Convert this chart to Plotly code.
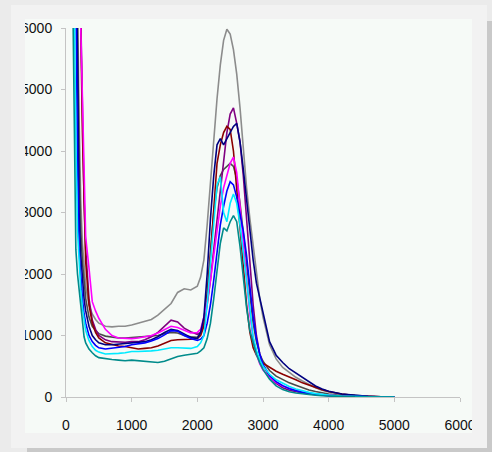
import plotly.graph_objects as go

# ---- data ----
x_vals = [100, 125, 150, 175, 200, 225, 250, 275, 300, 350, 400, 450, 500,
          600, 700, 800, 900, 1000, 1100, 1200, 1300, 1400, 1500, 1600, 1700,
          1800, 1900, 2000, 2050, 2100, 2150, 2200, 2250, 2300, 2350, 2400,
          2450, 2500, 2550, 2600, 2650, 2700, 2750, 2800, 2850, 2900, 2950,
          3000, 3100, 3200, 3300, 3400, 3500, 3600, 3700, 3800, 3900, 4000,
          4200, 4400, 4600, 4800, 5000]

gray = [14000, 11000, 9000, 6500, 4500, 3200, 2500, 2100, 1800, 1500, 1350, 1260, 1200,
        1150, 1140, 1150, 1150, 1170, 1200, 1220, 1260, 1330, 1420, 1520, 1700,
        1760, 1740, 1800, 1950, 2230, 2800, 3500, 4200, 4850, 5400, 5800,
        5980, 5900, 5650, 5250, 4700, 4000, 3400, 2900, 2450, 2000, 1600,
        1300, 850, 620, 480, 400, 320, 260, 200, 150, 110, 80,
        45, 22, 10, 4, 0]

navy = [13000, 10000, 7500, 5500, 3000, 2300, 1900, 1600, 1400, 1150, 1000, 930, 880,
        850, 850, 860, 870, 880, 880, 900, 930, 980, 1050, 1100, 1080,
        1020, 970, 950, 1050, 1300, 2000, 2900, 3600, 4100, 4200, 4100,
        4200, 4300, 4400, 4450, 4150, 3700, 3200, 2700, 2230, 1850, 1600,
        1380, 900, 680, 560, 460, 390, 310, 240, 180, 130, 95,
        50, 25, 10, 4, 0]

purple = [15000, 12500, 10000, 8500, 7200, 6200, 4500, 3200, 2400, 1600, 1250, 1100, 1000,
          930, 900, 890, 890, 900, 900, 930, 980, 1050, 1150, 1250, 1220,
          1120, 1060, 1020, 1050, 1200, 1500, 1900, 2400, 2900, 3400, 3900,
          4300, 4600, 4700, 4450, 4150, 3600, 2900, 2200, 1500, 1000, 700,
          520, 330, 220, 150, 110, 85, 65, 50, 38, 28, 20,
          10, 5, 2, 1, 0]

darkred = [15000, 12000, 10000, 8500, 7000, 6000, 4300, 3000, 2200, 1500, 1200, 1050, 960,
           880, 850, 830, 820, 800, 780, 790, 800, 830, 880, 920, 930,
           930, 940, 950, 1000, 1150, 1600, 2300, 3100, 3800, 4100, 4300,
           4400, 4350, 4000, 3400, 2700, 2100, 1500, 1050, 800, 680, 600,
           550, 480, 420, 370, 330, 280, 230, 190, 160, 120, 90,
           50, 25, 10, 4, 0]

darkgray = [14000, 11000, 8000, 6000, 3800, 2700, 2200, 1850, 1600, 1300, 1150, 1080, 1030,
            990, 970, 960, 960, 970, 970, 980, 990, 1000, 1030, 1050, 1040,
            1000, 980, 970, 1050, 1250, 1700, 2400, 3000, 3400, 3600, 3700,
            3750, 3800, 3750, 3550, 3150, 2650, 2150, 1650, 1200, 900, 700,
            580, 430, 340, 280, 230, 190, 150, 115, 90, 68, 50,
            25, 12, 5, 2, 0]

magenta = [16000, 13000, 11000, 9200, 7500, 6000, 4800, 3600, 2600, 2100, 1550, 1400, 1280,
           1100, 1000, 960, 950, 950, 960, 980, 1000, 1040, 1100, 1150, 1130,
           1080, 1040, 1050, 1100, 1300, 1550, 1900, 2300, 2700, 3100, 3400,
           3600, 3800, 3900, 3650, 3100, 2500, 1900, 1350, 950, 700, 540,
           440, 320, 240, 180, 140, 110, 85, 65, 50, 38, 28,
           14, 6, 3, 1, 0]

blue = [12000, 9000, 6000, 3900, 2400, 1900, 1600, 1350, 1200, 1000, 900, 840, 800,
        780, 790, 800, 820, 850, 860, 880, 910, 950, 1010, 1080, 1070,
        1000, 950, 920, 940, 1000, 1200, 1500, 1900, 2400, 2800, 3100,
        3350, 3500, 3450, 3250, 2950, 2700, 2300, 1800, 1300, 950, 700,
        530, 350, 250, 185, 135, 100, 75, 55, 40, 30, 22,
        10, 5, 2, 1, 0]

cyan = [9000, 6500, 4200, 2700, 2200, 1750, 1450, 1250, 1080, 920, 820, 760, 730,
        700, 700, 710, 720, 740, 740, 740, 750, 760, 780, 800, 800,
        790, 790, 820, 880, 1000, 1500, 2200, 2900, 3450, 3580, 3000,
        2850, 3150, 3300, 3150, 2800, 2350, 1850, 1350, 980, 760, 610,
        500, 370, 280, 220, 170, 130, 100, 75, 55, 40, 30,
        14, 6, 3, 1, 0]

teal = [6800, 4000, 2400, 2000, 1750, 1450, 1150, 980, 880, 780, 720, 670, 640,
        620, 610, 600, 590, 600, 590, 570, 560, 560, 580, 620, 660,
        680, 690, 710, 750, 800, 950, 1200, 1600, 2100, 2500, 2750,
        2700, 2850, 2950, 2850, 2450, 1950, 1450, 1080, 860, 690, 560,
        450, 290, 180, 120, 85, 65, 50, 38, 28, 20, 15,
        7, 3, 1, 0, 0]

series = [
    ("gray", gray, "#8c8c8c"),
    ("darkgray", darkgray, "#4a4a4a"),
    ("purple", purple, "#800080"),
    ("darkred", darkred, "#8b0000"),
    ("magenta", magenta, "#ff00ff"),
    ("navy", navy, "#000080"),
    ("blue", blue, "#0000ff"),
    ("cyan", cyan, "#00eaff"),
    ("teal", teal, "#008b8b"),
]

x_ticks = [0, 1000, 2000, 3000, 4000, 5000, 6000]
y_ticks = [0, 1000, 2000, 3000, 4000, 5000, 6000]

# ---- figure ----
W, H = 492, 452
L, R, T, B = 66, 32, 28, 55
pw, ph = W - L - R, H - T - B


def px(xp):
    return (xp - L) / pw


def py(yp):
    return (H - B - yp) / ph


fig = go.Figure()
for name, ys, col in series:
    fig.add_trace(go.Scatter(x=x_vals, y=ys, mode="lines", name=name,
                             line=dict(color=col, width=1.6)))

shapes = []
# drop shadow
shapes.append(dict(type="rect", xref="paper", yref="paper", layer="below",
                   x0=px(27), x1=px(492), y0=py(452), y1=py(21),
                   fillcolor="#c9c9c9", line=dict(width=0)))
# panel
shapes.append(dict(type="rect", xref="paper", yref="paper", layer="below",
                   x0=px(11), x1=px(487), y0=py(448), y1=py(5),
                   fillcolor="#f2f2f2", line=dict(width=0)))
# inner plotting area
shapes.append(dict(type="rect", xref="paper", yref="paper", layer="below",
                   x0=px(25), x1=px(472), y0=py(433), y1=py(19),
                   fillcolor="#f6faf7", line=dict(width=0)))
# masks that clip tick labels at the inner area edges
shapes.append(dict(type="rect", xref="paper", yref="paper", layer="above",
                   x0=px(11), x1=px(25), y0=py(448), y1=py(5),
                   fillcolor="#f2f2f2", line=dict(width=0)))
shapes.append(dict(type="rect", xref="paper", yref="paper", layer="above",
                   x0=px(472), x1=px(487), y0=py(448), y1=py(5),
                   fillcolor="#f2f2f2", line=dict(width=0)))
shapes.append(dict(type="rect", xref="paper", yref="paper", layer="above",
                   x0=px(11), x1=px(487), y0=py(448), y1=py(433),
                   fillcolor="#f2f2f2", line=dict(width=0)))

axis_font = dict(family="Liberation Sans, Arial, sans-serif", size=14, color="#111111")

fig.update_layout(
    width=W, height=H,
    margin=dict(l=L, r=R, t=T, b=B, pad=0),
    paper_bgcolor="#ebebeb",
    plot_bgcolor="#f6faf7",
    showlegend=False,
    shapes=shapes,
    xaxis=dict(range=[0, 6000], tickvals=x_ticks, ticktext=[str(v) for v in x_ticks],
               showgrid=False, zeroline=False, showline=True, linecolor="#c4c4c4",
               linewidth=1, ticks="outside", ticklen=4, tickcolor="#c4c4c4",
               tickfont=axis_font, ticklabelstandoff=11, fixedrange=True),
    yaxis=dict(range=[0, 6000], tickvals=y_ticks, ticktext=[str(v) for v in y_ticks],
               showgrid=False, zeroline=False, showline=True, linecolor="#c4c4c4",
               linewidth=1, ticks="outside", ticklen=4, tickcolor="#c4c4c4",
               tickfont=axis_font, ticklabelstandoff=6, fixedrange=True),
)

fig.write_html(
    "out.html",
    config={"displayModeBar": False},
    post_script="document.body.style.margin='0';document.body.style.overflow='hidden';document.body.style.background='#ebebeb';",
)
